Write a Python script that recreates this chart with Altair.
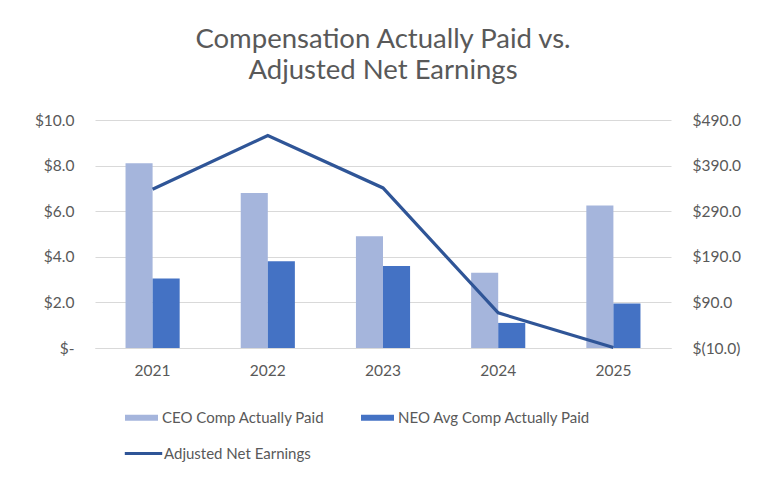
import altair as alt
import pandas as pd

years = ["2021", "2022", "2023", "2024", "2025"]
ceo = [8.1, 6.8, 4.9, 3.3, 6.25]
neo = [3.05, 3.8, 3.6, 1.1, 1.95]
earnings = [338, 456, 341, 67, -9]
series_names = ["CEO Comp Actually Paid", "NEO Avg Comp Actually Paid"]
line_name = "Adjusted Net Earnings"
left_ticks = [0, 2, 4, 6, 8, 10]
right_ticks = [-10, 90, 190, 290, 390, 490]

bars_df = pd.DataFrame({
    "year": years * 2,
    "series": [series_names[0]] * len(years) + [series_names[1]] * len(years),
    "value": ceo + neo,
})
line_df = pd.DataFrame({"year": years, "series": [line_name] * len(years), "value": earnings})

FONT = "Lato"
TXT = "#595959"
GRID = "#D9D9D9"

x_enc = alt.X(
    "year:N", title=None, sort=years,
    scale=alt.Scale(paddingInner=0.53, paddingOuter=0.265),
    axis=alt.Axis(labelAngle=0, ticks=False, tickSize=0, domain=True, domainColor=GRID,
                  labelPadding=15, labelFontSize=15.5, labelColor=TXT, labelFont=FONT),
)

bars = alt.Chart(bars_df).mark_bar().encode(
    x=x_enc,
    xOffset=alt.XOffset("series:N", sort=series_names),
    y=alt.Y("value:Q", title=None,
            scale=alt.Scale(domain=[0, 10]),
            axis=alt.Axis(values=left_ticks, orient="left", grid=True, gridColor=GRID,
                          ticks=False, tickSize=0, domain=False, labelPadding=21,
                          labelFontSize=15.5, labelColor=TXT, labelFont=FONT,
                          labelExpr="datum.value == 0 ? '$-' : '$' + format(datum.value, '.1f')")),
    color=alt.Color("series:N", title=None,
                    scale=alt.Scale(domain=series_names, range=["#A5B5DC", "#4472C4"]),
                    legend=alt.Legend(orient="none", legendX=30, legendY=281, direction="horizontal",
                                      columns=2, columnPadding=36, padding=0, labelLimit=400,
                                      symbolType="M-1,-0.18L1,-0.18L1,0.18L-1,0.18Z",
                                      symbolSize=1089, symbolStrokeWidth=0, labelOffset=4,
                                      labelFontSize=15, labelColor=TXT, labelFont=FONT)),
)

line = alt.Chart(line_df).mark_line(strokeWidth=3.2).encode(
    x=alt.X("year:N", sort=years),
    y=alt.Y("value:Q", title=None,
            scale=alt.Scale(domain=[-10, 490]),
            axis=alt.Axis(values=right_ticks, orient="right", grid=False,
                          ticks=False, tickSize=0, domain=False, labelPadding=21,
                          labelFontSize=15.5, labelColor=TXT, labelFont=FONT,
                          labelExpr="datum.value < 0 ? '$(' + format(-datum.value, '.1f') + ')' : '$' + format(datum.value, '.1f')")),
    stroke=alt.Stroke("series:N", title=None,
                      scale=alt.Scale(domain=[line_name], range=["#2F5597"]),
                      legend=alt.Legend(orient="none", legendX=28, legendY=313, padding=0, labelLimit=400,
                                        symbolType="stroke", symbolSize=1400, symbolStrokeWidth=3,
                                        labelOffset=0, labelFontSize=15, labelColor=TXT, labelFont=FONT)),
)

chart = alt.layer(bars, line).resolve_scale(y="independent").properties(
    width=576,
    height=228,
    autosize=alt.AutoSizeParams(type="none"),
    padding={"left": 87, "top": 112, "right": 80, "bottom": 120},
    title=alt.TitleParams(
        text=["Compensation Actually Paid vs.", "Adjusted Net Earnings"],
        fontSize=27.5, font=FONT, fontWeight="normal", color=TXT,
        anchor="middle", offset=29, lineHeight=31,
    ),
).configure(background="white", view=alt.ViewConfig(stroke=None))

chart.save("out.html", embed_options={"renderer": "svg", "actions": False})
